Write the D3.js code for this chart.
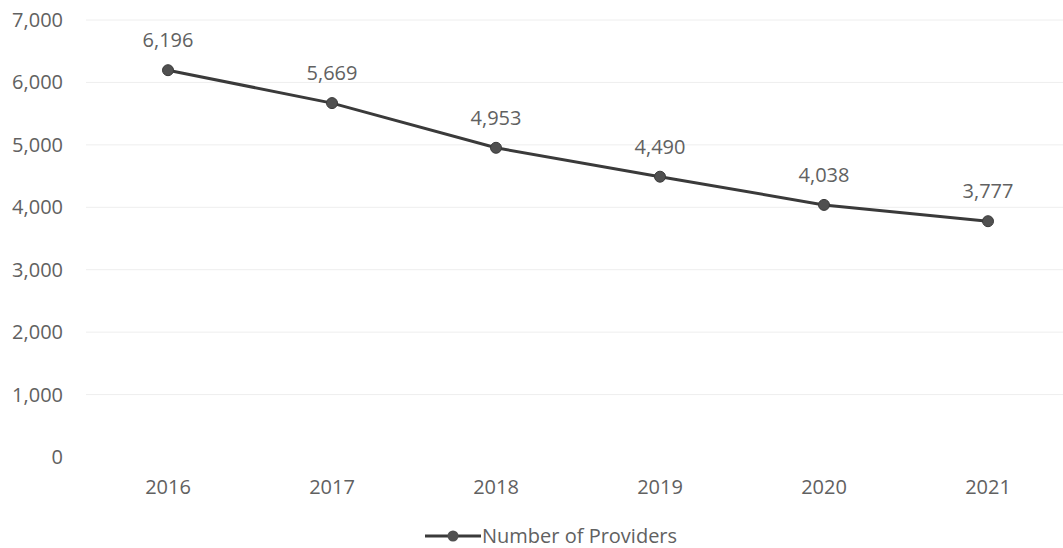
<!DOCTYPE html>
<html><head><meta charset="utf-8">
<script src="https://cdn.jsdelivr.net/npm/d3@7"></script>
<style>body{margin:0;background:#fff}svg{display:block}</style>
</head><body>
<svg id="c" width="1063" height="548"></svg>
<script>
const years = ["2016","2017","2018","2019","2020","2021"];
const providers = [6196, 5669, 4953, 4490, 4038, 3777];
const yTicks = [0,1000,2000,3000,4000,5000,6000,7000];
const seriesName = "Number of Providers";

const svg = d3.select("#c");
const font = "'Open Sans', sans-serif";
const fs = 20;
const tc = "#616161";
const x = d3.scalePoint().domain(years).range([86, 1070]).padding(0.5);
const y = d3.scaleLinear().domain([0,7000]).range([457, 20]);

svg.append("g").selectAll("line").data(yTicks.filter(d=>d>0)).join("line")
  .attr("x1",86).attr("x2",1063).attr("y1",d=>y(d)).attr("y2",d=>y(d))
  .attr("stroke","#eeeeee").attr("stroke-width",1);

const fmt = d3.format(",");
svg.append("g").selectAll("text").data(yTicks).join("text")
  .attr("x",63).attr("y",d=>y(d)).attr("dy","0.35em").attr("text-anchor","end")
  .attr("font-family",font).attr("font-size",fs).attr("fill",tc)
  .text(d=>fmt(d));

svg.append("g").selectAll("text").data(years).join("text")
  .attr("x",d=>x(d)).attr("y",487).attr("dy","0.35em").attr("text-anchor","middle")
  .attr("font-family",font).attr("font-size",fs).attr("fill",tc)
  .text(d=>d);

const pts = years.map((yr,i)=>({yr, v:providers[i]}));
svg.append("path").datum(pts)
  .attr("d", d3.line().x(d=>x(d.yr)).y(d=>y(d.v)))
  .attr("fill","none").attr("stroke","#3a3a3a").attr("stroke-width",3);
svg.append("g").selectAll("circle").data(pts).join("circle")
  .attr("cx",d=>x(d.yr)).attr("cy",d=>y(d.v)).attr("r",5.5)
  .attr("fill","#505050").attr("stroke","#3a3a3a").attr("stroke-width",1);
svg.append("g").selectAll("text").data(pts).join("text")
  .attr("x",d=>x(d.yr)).attr("y",d=>y(d.v)-30).attr("dy","0.35em").attr("text-anchor","middle")
  .attr("font-family",font).attr("font-size",fs).attr("fill",tc)
  .text(d=>fmt(d.v));

const lg = svg.append("g");
lg.append("line").attr("x1",425).attr("x2",481).attr("y1",536).attr("y2",536)
  .attr("stroke","#3a3a3a").attr("stroke-width",3);
lg.append("circle").attr("cx",453).attr("cy",536).attr("r",5.5).attr("fill","#505050");
lg.append("text").attr("x",482).attr("y",536).attr("dy","0.35em")
  .attr("font-family",font).attr("font-size",fs).attr("fill",tc).text(seriesName);
</script>
</body></html>
